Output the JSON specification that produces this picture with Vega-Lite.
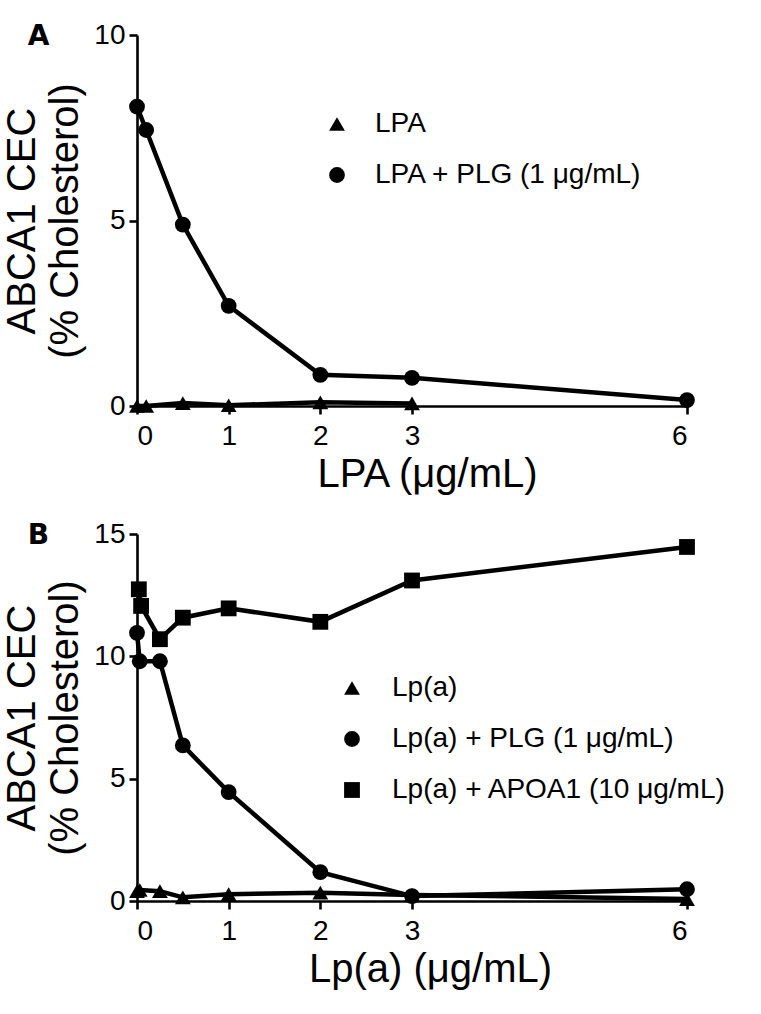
{
  "$schema": "https://vega.github.io/schema/vega-lite/v6.json",
  "background": "white",
  "padding": {"left": 2, "top": 21, "right": 10, "bottom": 10},
  "config": {
    "font": "Liberation Sans",
    "view": {"stroke": null},
    "axis": {
      "domainColor": "black", "domainWidth": 2.6,
      "tickColor": "black", "tickWidth": 2.6, "tickSize": 8,
      "labelColor": "black", "labelFontSize": 28, "labelFont": "Liberation Sans",
      "titleColor": "black", "titleFontSize": 40, "titleFontWeight": "normal", "titleFont": "Liberation Sans",
      "grid": false
    },
    "legend": {
      "orient": "none",
      "title": null,
      "labelFontSize": 28,
      "labelFont": "Liberation Sans",
      "labelColor": "black",
      "labelLimit": 600,
      "symbolSize": 250,
      "symbolFillColor": "black",
      "symbolStrokeWidth": 0,
      "rowPadding": 23,
      "padding": 0
    }
  },
  "datasets": {
    "a": [
      {"series": "LPA", "conc": 0, "cec": 0.0},
      {"series": "LPA", "conc": 0.1, "cec": 0.0},
      {"series": "LPA", "conc": 0.5, "cec": 0.08},
      {"series": "LPA", "conc": 1, "cec": 0.02},
      {"series": "LPA", "conc": 2, "cec": 0.1},
      {"series": "LPA", "conc": 3, "cec": 0.07},
      {"series": "LPA + PLG (1 μg/mL)", "conc": 0, "cec": 8.07},
      {"series": "LPA + PLG (1 μg/mL)", "conc": 0.1, "cec": 7.44},
      {"series": "LPA + PLG (1 μg/mL)", "conc": 0.5, "cec": 4.89},
      {"series": "LPA + PLG (1 μg/mL)", "conc": 1, "cec": 2.7},
      {"series": "LPA + PLG (1 μg/mL)", "conc": 2, "cec": 0.84},
      {"series": "LPA + PLG (1 μg/mL)", "conc": 3, "cec": 0.76},
      {"series": "LPA + PLG (1 μg/mL)", "conc": 6, "cec": 0.16}
    ],
    "b": [
      {"series": "Lp(a)", "conc": 0, "cec": 0.4},
      {"series": "Lp(a)", "conc": 0.03, "cec": 0.45},
      {"series": "Lp(a)", "conc": 0.25, "cec": 0.4},
      {"series": "Lp(a)", "conc": 0.5, "cec": 0.15},
      {"series": "Lp(a)", "conc": 1, "cec": 0.28},
      {"series": "Lp(a)", "conc": 2, "cec": 0.34},
      {"series": "Lp(a)", "conc": 3, "cec": 0.25},
      {"series": "Lp(a)", "conc": 6, "cec": 0.08},
      {"series": "Lp(a) + PLG (1 μg/mL)", "conc": 0, "cec": 10.96},
      {"series": "Lp(a) + PLG (1 μg/mL)", "conc": 0.03, "cec": 9.8},
      {"series": "Lp(a) + PLG (1 μg/mL)", "conc": 0.25, "cec": 9.8},
      {"series": "Lp(a) + PLG (1 μg/mL)", "conc": 0.5, "cec": 6.36},
      {"series": "Lp(a) + PLG (1 μg/mL)", "conc": 1, "cec": 4.45},
      {"series": "Lp(a) + PLG (1 μg/mL)", "conc": 2, "cec": 1.18},
      {"series": "Lp(a) + PLG (1 μg/mL)", "conc": 3, "cec": 0.2},
      {"series": "Lp(a) + PLG (1 μg/mL)", "conc": 6, "cec": 0.48},
      {"series": "Lp(a) + APOA1 (10 μg/mL)", "conc": 0.02, "cec": 12.74},
      {"series": "Lp(a) + APOA1 (10 μg/mL)", "conc": 0.045, "cec": 12.06},
      {"series": "Lp(a) + APOA1 (10 μg/mL)", "conc": 0.25, "cec": 10.7},
      {"series": "Lp(a) + APOA1 (10 μg/mL)", "conc": 0.5, "cec": 11.58},
      {"series": "Lp(a) + APOA1 (10 μg/mL)", "conc": 1, "cec": 11.96},
      {"series": "Lp(a) + APOA1 (10 μg/mL)", "conc": 2, "cec": 11.41},
      {"series": "Lp(a) + APOA1 (10 μg/mL)", "conc": 3, "cec": 13.1},
      {"series": "Lp(a) + APOA1 (10 μg/mL)", "conc": 6, "cec": 14.47}
    ]
  },
  "spacing": 26,
  "resolve": {"scale": {"shape": "independent", "x": "independent", "y": "independent"}, "legend": {"shape": "independent"}},
  "vconcat": [
    {
      "title": {"text": "A", "anchor": "start", "frame": "bounds", "fontSize": 28, "fontWeight": "bold", "font": "DejaVu Sans", "color": "black", "dx": 25, "dy": 30, "offset": 0},
      "width": 550,
      "height": 371,
      "data": {"name": "a"},
      "encoding": {
        "x": {"field": "conc", "type": "quantitative", "scale": {"domain": [0, 6], "nice": false, "zero": false}, "axis": {"values": [0, 1, 2, 3, 6], "title": "LPA (μg/mL)", "labelPadding": 8, "titlePadding": 4, "titleX": 290}},
        "y": {"field": "cec", "type": "quantitative", "scale": {"domain": [0, 10], "nice": false}, "axis": {"values": [0, 5, 10], "title": ["ABCA1 CEC", "(% Cholesterol)"], "titleLineHeight": 43, "labelPadding": 4, "titlePadding": 8}}
      },
      "layer": [
        {"mark": {"type": "line", "color": "black", "strokeWidth": 4.5, "clip": false}, "encoding": {"detail": {"field": "series"}}},
        {"mark": {"type": "point", "filled": true, "color": "black", "opacity": 1, "size": 250, "clip": false},
         "encoding": {
           "shape": {"field": "series", "type": "nominal", "scale": {"domain": ["LPA", "LPA + PLG (1 μg/mL)"], "range": ["triangle-up", "circle"]}, "legend": {"legendX": 186, "legendY": 75, "labelOffset": 24}}
         }}
      ]
    },
    {
      "title": {"text": "B", "anchor": "start", "frame": "bounds", "fontSize": 28, "fontWeight": "bold", "font": "DejaVu Sans", "color": "black", "dx": 25, "dy": 30, "offset": 0},
      "width": 550,
      "height": 367,
      "data": {"name": "b"},
      "encoding": {
        "x": {"field": "conc", "type": "quantitative", "scale": {"domain": [0, 6], "nice": false, "zero": false}, "axis": {"values": [0, 1, 2, 3, 6], "title": "Lp(a) (μg/mL)", "labelPadding": 8, "titlePadding": 4, "titleX": 293}},
        "y": {"field": "cec", "type": "quantitative", "scale": {"domain": [0, 15], "nice": false}, "axis": {"values": [0, 5, 10, 15], "title": ["ABCA1 CEC", "(% Cholesterol)"], "titleLineHeight": 43, "labelPadding": 4, "titlePadding": 8}}
      },
      "layer": [
        {"mark": {"type": "line", "color": "black", "strokeWidth": 4.5, "clip": false}, "encoding": {"detail": {"field": "series"}}},
        {"mark": {"type": "point", "filled": true, "color": "black", "opacity": 1, "size": 250, "clip": false},
         "encoding": {
           "shape": {"field": "series", "type": "nominal", "scale": {"domain": ["Lp(a)", "Lp(a) + PLG (1 μg/mL)", "Lp(a) + APOA1 (10 μg/mL)"], "range": ["triangle-up", "circle", "square"]}, "legend": {"legendX": 201, "legendY": 140, "labelOffset": 26}}
         }}
      ]
    }
  ]
}
